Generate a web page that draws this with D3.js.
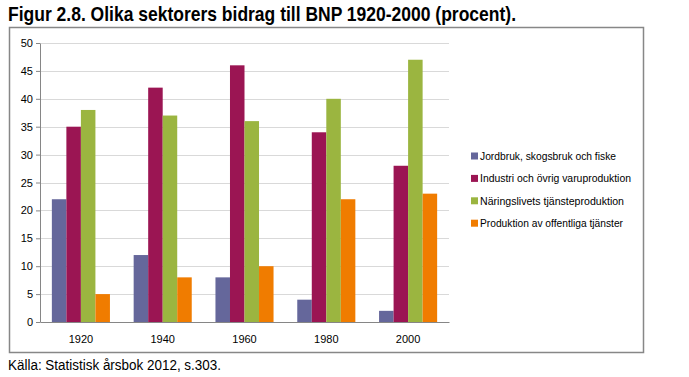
<!DOCTYPE html>
<html>
<head>
<meta charset="utf-8">
<script src="https://cdn.jsdelivr.net/npm/d3@7"></script>
<style>
  body { margin: 0; background: #fff; }
  svg { display: block; font-family: "Liberation Sans", Arial, sans-serif; }
  .axis path, .axis line { stroke: #868686; }
  .axis text { fill: #000; font-size: 11px; }
</style>
</head>
<body>
<div id="chart"></div>
<script>
const years = ["1920", "1940", "1960", "1980", "2000"];
const sectors = [
  "Jordbruk, skogsbruk och fiske",
  "Industri och övrig varuproduktion",
  "Näringslivets tjänsteproduktion",
  "Produktion av offentliga tjänster"
];
const jordbruk = [22, 12, 8, 4, 2];
const industri = [35, 42, 46, 34, 28];
const naringsliv = [38, 37, 36, 40, 47];
const offentliga = [5, 8, 10, 22, 23];
const yTicks = [0, 5, 10, 15, 20, 25, 30, 35, 40, 45, 50];
const colors = ["#65679b", "#9b1553", "#9bb540", "#f07c00"];

const series = [jordbruk, industri, naringsliv, offentliga];
const rows = years.flatMap((year, i) =>
  series.map((values, s) => ({ year, sector: sectors[s], value: values[i] }))
);

const width = 689;
const height = 377;
const margin = { top: 43, right: 240, bottom: 55, left: 40 };

const svg = d3
  .select("#chart")
  .append("svg")
  .attr("width", width)
  .attr("height", height);

// title
svg
  .append("text")
  .attr("x", 8)
  .attr("y", 20.5)
  .attr("font-family", "'Liberation Sans Narrow', 'Liberation Sans', Arial, sans-serif")
  .attr("font-weight", "bold")
  .attr("font-size", 21)
  .attr("textLength", 508)
  .attr("lengthAdjust", "spacingAndGlyphs")
  .text("Figur 2.8. Olika sektorers bidrag till BNP 1920-2000 (procent).");

// frame
svg
  .append("rect")
  .attr("x", 9.5)
  .attr("y", 27.5)
  .attr("width", 634)
  .attr("height", 325)
  .attr("fill", "none")
  .attr("stroke", "#878787")
  .attr("stroke-width", 1.5);

const x = d3
  .scaleBand()
  .domain(years)
  .range([margin.left, width - margin.right])
  .paddingInner(0.29)
  .paddingOuter(0.145);

const xSub = d3.scaleBand().domain(sectors).range([0, x.bandwidth()]);

const y = d3
  .scaleLinear()
  .domain([0, 50])
  .range([height - margin.bottom, margin.top]);

// gridlines
svg
  .append("g")
  .selectAll("line")
  .data(yTicks.filter((d) => d > 0))
  .join("line")
  .attr("x1", margin.left)
  .attr("x2", width - margin.right)
  .attr("y1", (d) => Math.round(y(d)) + 0.5)
  .attr("y2", (d) => Math.round(y(d)) + 0.5)
  .attr("stroke", "#d9d9d9");

// bars
svg
  .append("g")
  .selectAll("rect")
  .data(rows)
  .join("rect")
  .attr("x", (d) => x(d.year) + xSub(d.sector))
  .attr("y", (d) => y(d.value))
  .attr("width", xSub.bandwidth())
  .attr("height", (d) => y(0) - y(d.value))
  .attr("fill", (d) => colors[sectors.indexOf(d.sector)]);

svg
  .append("g")
  .attr("class", "axis")
  .attr("transform", `translate(${margin.left},0)`)
  .call(d3.axisLeft(y).tickValues(yTicks).tickSize(4).tickPadding(3).tickSizeOuter(0));

svg
  .append("g")
  .attr("class", "axis")
  .attr("transform", `translate(0,${height - margin.bottom})`)
  .call(d3.axisBottom(x).tickSize(0).tickPadding(13).tickSizeOuter(0));

// legend
const legend = svg
  .append("g")
  .selectAll("g")
  .data(sectors)
  .join("g")
  .attr("transform", (d, i) => `translate(471,${156 + i * 22.4})`);

legend
  .append("rect")
  .attr("x", 0)
  .attr("y", -3.5)
  .attr("width", 7)
  .attr("height", 7)
  .attr("fill", (d, i) => colors[i]);

legend
  .append("text")
  .attr("x", 9)
  .attr("y", 4)
  .attr("font-size", 11)
  .attr("fill", "#000")
  .attr("textLength", (d, i) => [136, 151, 144, 143][i])
  .attr("lengthAdjust", "spacingAndGlyphs")
  .text((d) => d);

// source
svg
  .append("text")
  .attr("x", 8)
  .attr("y", 370)
  .attr("font-size", 14)
  .attr("textLength", 213)
  .attr("lengthAdjust", "spacingAndGlyphs")
  .text("Källa: Statistisk årsbok 2012, s.303.");
</script>
</body>
</html>
